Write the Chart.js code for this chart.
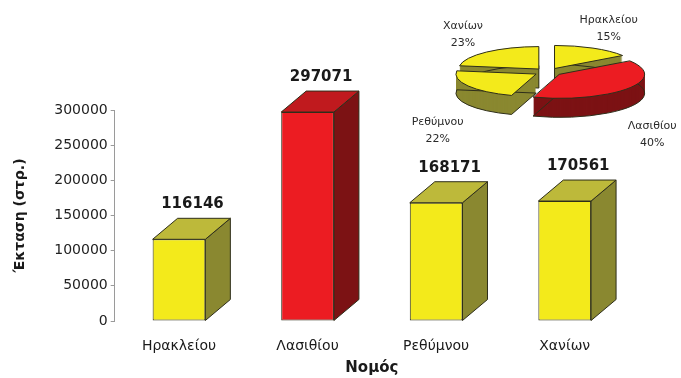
<!DOCTYPE html>
<html>
<head>
<meta charset="utf-8">
<script src="https://cdn.jsdelivr.net/npm/chart.js@4.4.1/dist/chart.umd.min.js"></script>
<style>
  html, body { margin: 0; padding: 0; background: #fff; }
  #wrap { position: relative; width: 681px; height: 378px; overflow: hidden; }
  #wrap canvas { position: absolute; left: 0; top: 0; }
  #pie { pointer-events: none; }
</style>
</head>
<body>
<div id="wrap">
  <canvas id="bars" width="681" height="378"></canvas>
  <canvas id="pie" width="681" height="378"></canvas>
</div>
<script>
const NOMOI = ["Ηρακλείου", "Λασιθίου", "Ρεθύμνου", "Χανίων"];
const EKTASH = [116146, 297071, 168171, 170561];
const Y_MAX = 300000;
const Y_STEP = 50000;

const FRONT = ["#f3ea1b", "#ec1c22", "#f3ea1b", "#f3ea1b"];
const TOP = ["#bdb93a", "#c01a1e", "#bdb93a", "#bdb93a"];
const SIDE = ["#8a8830", "#7c1214", "#8a8830", "#8a8830"];
const EDGE = "#2e2e1a";
const INK = "#1a1a1a";

const FONT = "'DejaVu Sans', Verdana, sans-serif";
const DX = 25, DY = 21;         // column depth
const TILT = 0.28, THICK = 19;  // pie squash + rim height

function poly(ctx, pts, fill) {
  ctx.beginPath();
  ctx.moveTo(pts[0][0], pts[0][1]);
  for (let i = 1; i < pts.length; i++) ctx.lineTo(pts[i][0], pts[i][1]);
  ctx.closePath();
  ctx.fillStyle = fill;
  ctx.fill();
  ctx.strokeStyle = EDGE;
  ctx.lineWidth = 1;
  ctx.stroke();
}

// side + top faces behind each column, value above it
const bar3d = {
  id: "bar3d",
  beforeDatasetsDraw(chart) {
    const ctx = chart.ctx;
    ctx.save();
    chart.getDatasetMeta(0).data.forEach((bar, i) => {
      const l = bar.x - bar.width / 2, r = bar.x + bar.width / 2;
      const t = bar.y, b = bar.base;
      poly(ctx, [[r, t], [r + DX, t - DY], [r + DX, b - DY], [r, b]], SIDE[i]);
      poly(ctx, [[l, t], [l + DX, t - DY], [r + DX, t - DY], [r, t]], TOP[i]);
    });
    ctx.restore();
  },
  afterDatasetsDraw(chart) {
    const ctx = chart.ctx;
    ctx.save();
    ctx.font = "bold 15px " + FONT;
    ctx.fillStyle = INK;
    ctx.textAlign = "center";
    ctx.textBaseline = "middle";
    chart.getDatasetMeta(0).data.forEach((bar, i) => {
      ctx.fillText(String(EKTASH[i]), bar.x + DX / 2 + 1, bar.y - DY - 14);
    });
    ctx.restore();
  },
};

// same sector geometry ArcElement uses (offset / explode included)
function slicePath(ctx, arc) {
  const off = (arc.options.offset || 0) / 4;
  const half = (arc.startAngle + arc.endAngle) / 2;
  const cx = arc.x + Math.cos(half) * off;
  const cy = arc.y + Math.sin(half) * off;
  const fix = 1 - Math.sin(Math.min(Math.PI, arc.circumference || 0));
  ctx.beginPath();
  ctx.moveTo(cx, cy);
  ctx.arc(cx, cy, arc.outerRadius + off * fix, arc.startAngle, arc.endAngle);
  ctx.closePath();
}

function squash(ctx, cx, cy, dy) {
  ctx.translate(cx, cy + dy);
  ctx.scale(1, TILT);
  ctx.translate(-cx, -cy);
}

const pie3d = {
  id: "pie3d",
  beforeDatasetsDraw(chart) {
    const ctx = chart.ctx;
    const arcs = chart.getDatasetMeta(0).data;
    const cx = arcs[0].x, cy = arcs[0].y;
    const midY = (a) => Math.sin((a.startAngle + a.endAngle) / 2);
    const order = arcs.map((a, i) => i).sort((a, b) => midY(arcs[a]) - midY(arcs[b]));
    order.forEach((i) => {
      for (let k = THICK; k >= 1; k--) {
        ctx.save();
        squash(ctx, cx, cy, k);
        slicePath(ctx, arcs[i]);
        ctx.restore();
        ctx.fillStyle = SIDE[i];
        ctx.fill();
      }
      ctx.save();
      squash(ctx, cx, cy, THICK);
      slicePath(ctx, arcs[i]);
      ctx.restore();
      ctx.strokeStyle = EDGE;
      ctx.lineWidth = 1;
      ctx.stroke();
    });
    ctx.save();
    squash(ctx, cx, cy, 0);
  },
  afterDatasetsDraw(chart) {
    const ctx = chart.ctx;
    ctx.restore();
    const arcs = chart.getDatasetMeta(0).data;
    const cx = arcs[0].x, cy = arcs[0].y;
    arcs.forEach((arc) => {
      ctx.save();
      squash(ctx, cx, cy, 0);
      slicePath(ctx, arc);
      ctx.restore();
      ctx.strokeStyle = EDGE;
      ctx.lineWidth = 1;
      ctx.stroke();
    });

    const total = EKTASH.reduce((s, v) => s + v, 0);
    ctx.save();
    ctx.font = "11px " + FONT;
    ctx.fillStyle = "#2a2a2a";
    ctx.textAlign = "center";
    ctx.textBaseline = "middle";
    arcs.forEach((arc, i) => {
      const mid = (arc.startAngle + arc.endAngle) / 2;
      const lower = Math.sin(mid) > 0;
      const x = cx + Math.cos(mid) * 130;
      const y = cy + Math.sin(mid) * 50 + (lower ? 32 : 0);
      ctx.fillText(NOMOI[i], x, y - 8);
      ctx.fillText(Math.round(EKTASH[i] * 100 / total) + "%", x, y + 9);
    });
    ctx.restore();
  },
};

new Chart(document.getElementById("bars"), {
  type: "bar",
  data: {
    labels: NOMOI,
    datasets: [{
      data: EKTASH,
      backgroundColor: FRONT,
      borderColor: EDGE,
      borderWidth: 1,
      borderSkipped: false,
      barPercentage: 0.41,
      categoryPercentage: 1,
    }],
  },
  options: {
    responsive: false,
    animation: false,
    events: [],
    layout: { padding: { left: 8, right: 52, top: 110, bottom: 0 } },
    plugins: { legend: { display: false }, tooltip: { enabled: false } },
    scales: {
      x: {
        grid: { display: false },
        border: { display: false },
        ticks: { color: INK, font: { family: FONT, size: 14 }, padding: 9 },
        title: {
          display: true, text: "Νομός", color: INK,
          font: { family: FONT, size: 15, weight: "bold" },
          padding: { top: 0, bottom: 1 },
        },
        afterFit: (s) => { s.height = 57; },
      },
      y: {
        min: 0,
        max: Y_MAX,
        ticks: {
          stepSize: Y_STEP, color: "#222", padding: 3,
          font: { family: FONT, size: 14 },
          callback: (v) => String(v),
        },
        grid: { drawOnChartArea: false, tickLength: 4, color: "#9a9a9a" },
        border: { color: "#9a9a9a" },
        title: {
          display: true, text: "Έκταση (στρ.)", color: INK,
          font: { family: FONT, size: 14, weight: "bold" },
          padding: { top: 4, bottom: 0 },
        },
        afterFit: (s) => { s.width = 106.7; },
      },
    },
  },
  plugins: [bar3d],
});

new Chart(document.getElementById("pie"), {
  type: "pie",
  data: {
    labels: NOMOI,
    datasets: [{
      data: EKTASH,
      backgroundColor: FRONT,
      borderWidth: 0,
      offset: 56,
      radius: 80,
      clip: false,
    }],
  },
  options: {
    responsive: false,
    animation: false,
    events: [],
    layout: { padding: { left: 448, right: 33, top: 0, bottom: 234 } },
    plugins: { legend: { display: false }, tooltip: { enabled: false } },
  },
  plugins: [pie3d],
});
</script>
</body>
</html>
